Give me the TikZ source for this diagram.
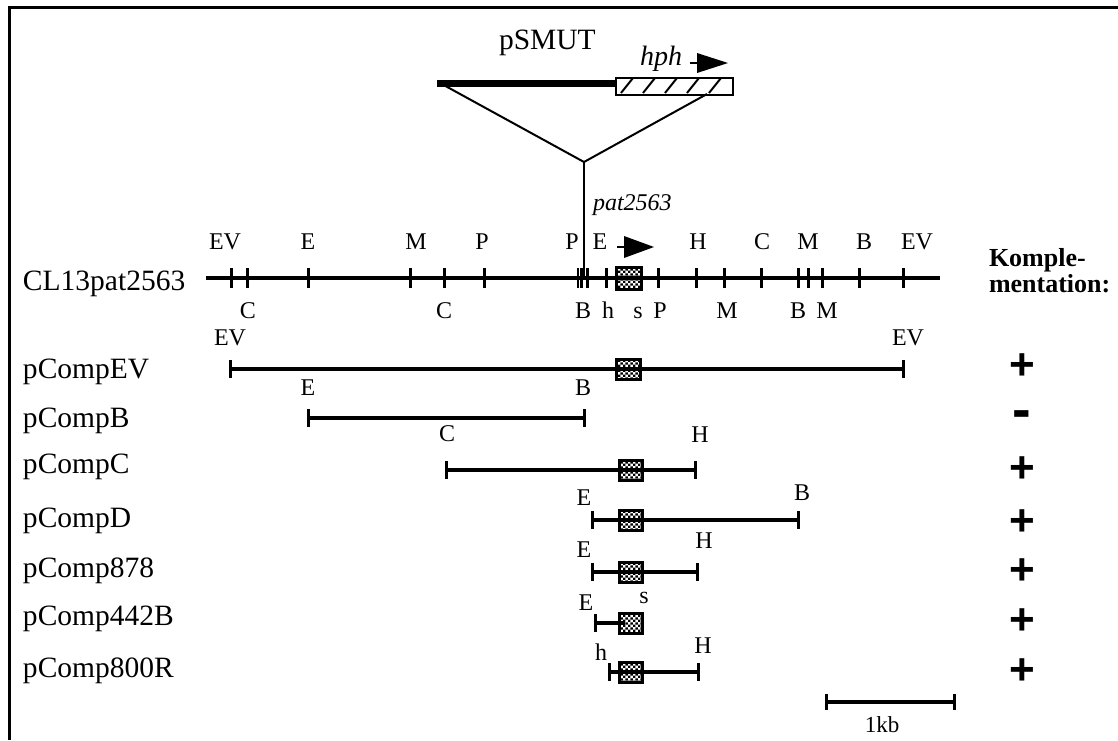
\documentclass[tikz,border=0pt]{standalone}
\usepackage{fontspec}
\setmainfont{Liberation Serif}
\newfontfamily\plusfont{Liberation Sans}
\usetikzlibrary{patterns.meta}
\tikzdeclarepattern{
  name=finecheck,
  type=colored,
  bounding box={(0,0) and (2.6pt,2.6pt)},
  tile size={(2.6pt,2.6pt)},
  code={\fill[black] (0,0) rectangle (1.3pt,1.3pt); \fill[black] (1.3pt,1.3pt) rectangle (2.6pt,2.6pt);}
}
\tikzset{
  txt/.style={inner sep=0pt, outer sep=0pt, anchor=base},
  bigtxt/.style={txt, font=\fontsize{14.75}{17}\selectfont},
  site/.style={txt, font=\fontsize{12}{14}\selectfont},
  pm/.style={inner sep=0pt, outer sep=0pt, font=\plusfont\bfseries\fontsize{22}{24}\selectfont},
  chrom/.style={line width=2pt},
  frag/.style={line width=2pt},
  tick/.style={line width=1.5pt},
  finetick/.style={line width=1.1pt},
  genebox/.style={draw, line width=1.5pt, pattern=finecheck},
  thin/.style={line width=1pt},
}
\newcommand{\fragtick}[2]{\draw[tick] (#1,#2-9) -- (#1,#2+9);}
\begin{document}
\begin{tikzpicture}[x=0.5pt,y=-0.5pt]
\useasboundingbox (0,0) rectangle (1118,740);
% frame
\draw[line width=1.5pt] (9,740) -- (9,7) -- (1118,7);

% pSMUT construct
\node[bigtxt, anchor=base west] (psmut) at (499,49) {pSMUT};
\coordinate (vL) at (437,83);
\coordinate (vR) at (615,83);
\draw[line width=3.5pt] (vL) -- (vR);
\node[draw, line width=1pt, minimum width=117*0.5pt, minimum height=17*0.5pt, inner sep=0pt, anchor=north west, fill=white] (hphbox) at (615,77) {};
\foreach \i in {0,...,4}{
  \draw[line width=1pt] (621+22*\i,93) -- (633+22*\i,78);
}
\node[txt, anchor=base west, font=\itshape\fontsize{14}{16}\selectfont] (hph) at (640,65) {hph};
\coordinate (ha0) at (690,63);
\coordinate (ha1) at (699,63);
\draw[line width=1pt] (ha0) -- (ha1);
\fill (697,53) -- (728,63) -- (697,73) -- cycle;

% insertion lines
\coordinate (apex) at (584,162);
\coordinate (rins) at (707,94);
\coordinate (ins) at (584,278);
\draw[thin] (440,83) -- (apex) -- (rins);

% main chromosome
\node[bigtxt, anchor=base west] (cl13) at (23,290) {CL13pat2563};
\coordinate (c0) at (206,278);
\coordinate (c1) at (940,278);
\draw[chrom] (c0) -- (c1);
\foreach \x in {231,247,308,410,444,484,606,658,696,724,761,798,808,822,859,903}{
  \draw[tick] (\x,268) -- (\x,288);
}
\foreach \x in {578,581.5,587.5}{
  \draw[finetick] (\x,268) -- (\x,288);
}
\draw[thin] (apex) -- (ins);
\node[genebox, minimum width=25*0.5pt, minimum height=22*0.5pt, inner sep=0pt] (gmain) at (628.5,278) {};
\node[txt, anchor=base west, font=\itshape\fontsize{12}{14}\selectfont] (pat) at (593,210) {pat2563};
\draw[line width=1pt] (617,247) -- (626,247);
\fill (624,236) -- (654,247) -- (624,258) -- cycle;

% sites above
\foreach \x/\t in {225/EV,308/E,416/M,482/P,572/P,600/E,698/H,762/C,808/M,864/B,917/EV}{
  \node[site] at (\x,249) {\t};
}
% sites below
\foreach \x/\t in {248/C,444/C,583/B,608/h,638/s,660/P,727/M,798/B,827/M}{
  \node[site] at (\x,318) {\t};
}

% Komplementation header
\node[txt, anchor=base west, align=left, font=\bfseries\fontsize{13}{11}\selectfont] (komp) at (989,292) {Komple-\\mentation:};

% rows
\node[bigtxt, anchor=base west] (nEV) at (23,378) {pCompEV};
\node[bigtxt, anchor=base west] (nB) at (23,427) {pCompB};
\node[bigtxt, anchor=base west] (nC) at (23,473) {pCompC};
\node[bigtxt, anchor=base west] (nD) at (23,527) {pCompD};
\node[bigtxt, anchor=base west] (n878) at (23,577) {pComp878};
\node[bigtxt, anchor=base west] (n442) at (23,625) {pComp442B};
\node[bigtxt, anchor=base west] (n800) at (23,677) {pComp800R};

% pCompEV
\coordinate (ev0) at (230,369); \coordinate (ev1) at (903,369);
\draw[frag] (ev0) -- (ev1); \fragtick{230}{369} \fragtick{903}{369}
\node[genebox, minimum width=24*0.5pt, minimum height=20*0.5pt, inner sep=0pt] (gEV) at (628,369) {};
\node[site] at (230,345) {EV}; \node[site] at (908,345) {EV};

% pCompB
\coordinate (b0) at (308,418); \coordinate (b1) at (584,418);
\draw[frag] (b0) -- (b1); \fragtick{308}{418} \fragtick{584}{418}
\node[site] at (308,395) {E}; \node[site] at (583,395) {B};

% pCompC
\coordinate (cc0) at (446,470); \coordinate (cc1) at (695,470);
\draw[frag] (cc0) -- (cc1); \fragtick{446}{470} \fragtick{695}{470}
\node[genebox, minimum width=23*0.5pt, minimum height=20*0.5pt, inner sep=0pt] (gC) at (630.5,470) {};
\node[site] at (447,441) {C}; \node[site] at (700,442) {H};

% pCompD
\coordinate (d0) at (592,520); \coordinate (d1) at (798,520);
\draw[frag] (d0) -- (d1); \fragtick{592}{520} \fragtick{798}{520}
\node[genebox, minimum width=23*0.5pt, minimum height=20*0.5pt, inner sep=0pt] (gD) at (630.5,520) {};
\node[site] at (584,505) {E}; \node[site] at (802,500) {B};

% pComp878
\coordinate (e0) at (592,572); \coordinate (e1) at (697,572);
\draw[frag] (e0) -- (e1); \fragtick{592}{572} \fragtick{697}{572}
\node[genebox, minimum width=23*0.5pt, minimum height=20*0.5pt, inner sep=0pt] (g878) at (630.5,572) {};
\node[site] at (584,557) {E}; \node[site] at (704,548) {H};

% pComp442B
\coordinate (f0) at (595,623); \coordinate (f1) at (625,623);
\draw[frag] (f0) -- (f1); \fragtick{595}{623}
\node[genebox, minimum width=23*0.5pt, minimum height=20*0.5pt, inner sep=0pt] (g442) at (631,623) {};
\draw[tick] (642.5,613) -- (642.5,635);
\node[site] at (586,610) {E}; \node[site] at (644,603) {s};

% pComp800R
\coordinate (h0) at (609,672); \coordinate (h1) at (698,672);
\draw[frag] (h0) -- (h1); \fragtick{609}{672} \fragtick{698}{672}
\node[genebox, minimum width=23*0.5pt, minimum height=20*0.5pt, inner sep=0pt] (g800) at (630.5,672) {};
\node[site] at (601,660) {h}; \node[site] at (703,653) {H};

% plus / minus
\foreach \y [count=\k] in {367,470,523,572,622,672}{
  \node[pm] (plus\k) at (1022,\y) {+};
}
\node[pm, font=\plusfont\bfseries\fontsize{28}{30}\selectfont] (minus) at (1022,420) {-};

% scale bar
\coordinate (s0) at (826,702); \coordinate (s1) at (954,702);
\draw[frag] (s0) -- (s1); \draw[tick] (826,694) -- (826,710); \draw[tick] (954,694) -- (954,710);
\node[txt, font=\fontsize{11.5}{13}\selectfont] (kb) at (882,732) {1kb};
\end{tikzpicture}
\end{document}
